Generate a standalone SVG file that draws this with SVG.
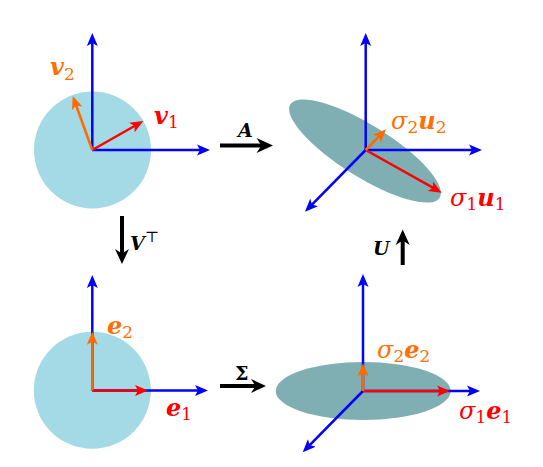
<svg xmlns="http://www.w3.org/2000/svg" width="543" height="467" viewBox="0 0 543 467">
<style>
.ax{stroke:#0000ff;stroke-width:2.5;fill:none}
.rd{stroke:#ff0000;stroke-width:2.5;fill:none}
.or{stroke:#ff6a00;stroke-width:2.5;fill:none}
.bk{stroke:#000;stroke-width:4;fill:none}
.disk{fill:#a3dae5}
.ell{fill:#7fafb3}
text{font-family:"DejaVu Serif","Liberation Serif",serif;font-size:24px}
.bi{font-weight:bold;font-style:italic}
.it{font-style:italic}
.sub{font-size:17px}
.op{font-size:19px;fill:#000}
.lr{fill:#ff0000}
.lo{fill:#ff7000}
</style>
<defs>
<marker id="mb" viewBox="0 -6 13 12" markerWidth="13" markerHeight="12" refX="9" refY="0" orient="auto" markerUnits="userSpaceOnUse"><path d="M0,-5.5 L13,0 L0,5.5 L3,0 Z" fill="#0000ff"/></marker>
<marker id="mr" viewBox="0 -6 13 12" markerWidth="13" markerHeight="12" refX="9" refY="0" orient="auto" markerUnits="userSpaceOnUse"><path d="M0,-5.5 L13,0 L0,5.5 L3,0 Z" fill="#ff0000"/></marker>
<marker id="mo" viewBox="0 -6 13 12" markerWidth="13" markerHeight="12" refX="9" refY="0" orient="auto" markerUnits="userSpaceOnUse"><path d="M0,-5.5 L13,0 L0,5.5 L3,0 Z" fill="#ff6a00"/></marker>
</defs>

<g id="top-left">
<circle class="disk" cx="92.5" cy="150" r="58.5"/>
<line class="ax" x1="92.3" y1="150" x2="92.3" y2="37" marker-end="url(#mb)"/>
<line class="ax" x1="92.3" y1="150" x2="206" y2="150" marker-end="url(#mb)"/>
<line class="rd" x1="92.3" y1="150" x2="139.8" y2="123" marker-end="url(#mr)"/>
<line class="or" x1="92.3" y1="150" x2="74.1" y2="99.8" marker-end="url(#mo)"/>
<text class="lo" x="50" y="75"><tspan class="bi">v</tspan><tspan class="sub" dy="5">2</tspan></text>
<text class="lr" x="154" y="123.5"><tspan class="bi">v</tspan><tspan class="sub" dy="4">1</tspan></text>
</g>

<g id="top-right">
<ellipse class="ell" cx="365" cy="151" rx="88" ry="26" transform="rotate(32 365 151)"/>
<line class="ax" x1="365.7" y1="150" x2="365.7" y2="37" marker-end="url(#mb)"/>
<line class="ax" x1="365.7" y1="150" x2="478" y2="150" marker-end="url(#mb)"/>
<line class="ax" x1="365.7" y1="150" x2="307.8" y2="208.9" marker-end="url(#mb)"/>
<line class="rd" x1="365.7" y1="150" x2="438.2" y2="190.7" marker-end="url(#mr)"/>
<line class="or" x1="365.7" y1="150" x2="383.2" y2="132.2" marker-end="url(#mo)"/>
<text class="lo" x="391" y="129"><tspan class="it">σ</tspan><tspan class="sub" dy="4">2</tspan><tspan class="bi" dy="-4">u</tspan><tspan class="sub" dy="4">2</tspan></text>
<text class="lr" x="450" y="205.5"><tspan class="it">σ</tspan><tspan class="sub" dy="4">1</tspan><tspan class="bi" dy="-4">u</tspan><tspan class="sub" dy="4">1</tspan></text>
</g>

<g id="bottom-left">
<circle class="disk" cx="92.3" cy="390.3" r="58.5"/>
<line class="ax" x1="92.3" y1="390.5" x2="92.3" y2="279" marker-end="url(#mb)"/>
<line class="ax" x1="92.3" y1="390.5" x2="204" y2="390.5" marker-end="url(#mb)"/>
<line class="rd" x1="92.3" y1="390.5" x2="144" y2="390.5" marker-end="url(#mr)"/>
<line class="or" x1="92.3" y1="390.5" x2="92.3" y2="335.7" marker-end="url(#mo)"/>
<text class="lo" x="107" y="334"><tspan class="bi">e</tspan><tspan class="sub" dy="4">2</tspan></text>
<text class="lr" x="166" y="415.5"><tspan class="bi">e</tspan><tspan class="sub" dy="4">1</tspan></text>
</g>

<g id="bottom-right">
<ellipse class="ell" cx="363.2" cy="391" rx="87.5" ry="29"/>
<line class="ax" x1="363" y1="391" x2="363" y2="278" marker-end="url(#mb)"/>
<line class="ax" x1="363" y1="391" x2="476" y2="391" marker-end="url(#mb)"/>
<line class="ax" x1="363" y1="391" x2="305.5" y2="449.4" marker-end="url(#mb)"/>
<line class="rd" x1="363" y1="391" x2="446" y2="391" marker-end="url(#mr)"/>
<line class="or" x1="363" y1="391" x2="363" y2="367.3" marker-end="url(#mo)"/>
<text class="lo" x="377" y="358"><tspan class="it">σ</tspan><tspan class="sub" dy="4">2</tspan><tspan class="bi" dy="-4">e</tspan><tspan class="sub" dy="4">2</tspan></text>
<text class="lr" x="459" y="419"><tspan class="it">σ</tspan><tspan class="sub" dy="4">1</tspan><tspan class="bi" dy="-4">e</tspan><tspan class="sub" dy="4">1</tspan></text>
</g>

<g id="connectors">
<g id="arrow-A">
<line class="bk" x1="220" y1="145.5" x2="266" y2="145.5"/>
<path d="M273,145.5 L256.5,138 L261.5,145.5 L256.5,153 Z" fill="#000"/>
<text class="op bi" x="238" y="137">A</text>
</g>
<g id="arrow-Sigma">
<line class="bk" x1="220" y1="386" x2="259" y2="386"/>
<path d="M266,386 L251,379 L255.5,386 L251,393 Z" fill="#000"/>
<text class="op" font-weight="bold" x="235" y="380">Σ</text>
</g>
<g id="arrow-VT">
<line class="bk" x1="122" y1="216" x2="122" y2="258"/>
<path d="M122,264 L115,249 L122,253.5 L129,249 Z" fill="#000"/>
<text class="op" x="130" y="250"><tspan class="bi">V</tspan><tspan font-size="15" dy="-8">⊤</tspan></text>
</g>
<g id="arrow-U">
<line class="bk" x1="402.7" y1="265" x2="402.7" y2="236"/>
<path d="M402.7,229.5 L395.7,245 L402.7,240.5 L409.7,245 Z" fill="#000"/>
<text class="op bi" x="373" y="255">U</text>
</g>
</g>
</svg>
